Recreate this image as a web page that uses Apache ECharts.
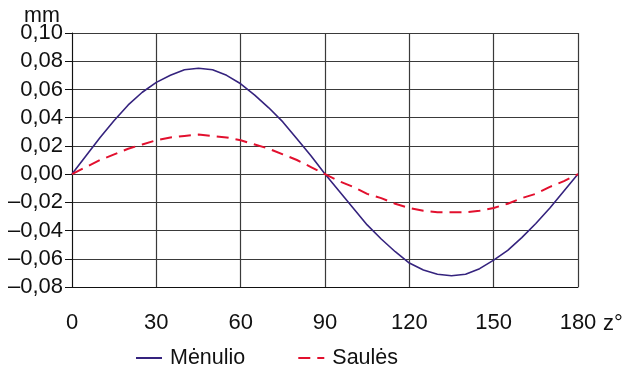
<!DOCTYPE html>
<html><head><meta charset="utf-8">
<script src="https://cdn.jsdelivr.net/npm/echarts@6/dist/echarts.min.js"></script>
<style>html,body{margin:0;padding:0;background:#fff}#c{width:632px;height:371px}</style>
</head><body><div id="c"></div>
<script>
const angles = [0,5,10,15,20,25,30,35,40,45,50,55,60,65,70,75,80,85,90,95,100,105,110,115,120,125,130,135,140,145,150,155,160,165,170,175,180];
const menulio = [0,0.013,0.026,0.038,0.049,0.058,0.065,0.070,0.074,0.075,0.074,0.070,0.064,0.056,0.047,0.037,0.025,0.013,0,-0.012,-0.024,-0.036,-0.046,-0.055,-0.063,-0.068,-0.071,-0.072,-0.071,-0.067,-0.061,-0.054,-0.045,-0.035,-0.024,-0.012,0];
const saules = [0,0.005,0.010,0.014,0.018,0.021,0.024,0.026,0.027,0.028,0.027,0.026,0.024,0.021,0.018,0.014,0.010,0.005,0,-0.005,-0.009,-0.014,-0.017,-0.021,-0.024,-0.026,-0.027,-0.027,-0.027,-0.026,-0.024,-0.021,-0.017,-0.014,-0.009,-0.005,0];
const seriesNames = ['Mėnulio','Saulės'];
const xTicks = [0,30,60,90,120,150,180];

const font = 'Liberation Sans, Arial, sans-serif';
const chart = echarts.init(document.getElementById('c'));
const fmtY = v => {
  const s = Math.abs(v).toFixed(2).replace('.', ',');
  return (v < -1e-9 ? '\u2013' : '') + s;
};
chart.setOption({
  animation: false,
  textStyle: {fontFamily: font},
  grid: {left: 72, right: 54, top: 33, bottom: 84, containLabel: false},
  legend: {
    bottom: -3, left: 130, itemWidth: 26, itemHeight: 10, itemGap: 52,
    itemStyle: {opacity: 0},
    textStyle: {fontFamily: font, fontSize: 21.5, color: '#111', padding: [0, 0, 0, 3]},
    data: seriesNames
  },
  xAxis: {
    type: 'value', min: 0, max: 180, interval: 30,
    axisLine: {show: true, onZero: false, lineStyle: {color: '#111', width: 1}},
    axisTick: {show: false},
    splitLine: {show: true, lineStyle: {color: '#3a3a3a', width: 1.2}},
    axisLabel: {margin: 25, fontSize: 22, color: '#111', fontFamily: font,
      formatter: v => xTicks.includes(v) ? String(v) : ''},
  },
  yAxis: {
    type: 'value', min: -0.08, max: 0.10, interval: 0.02,
    axisLine: {show: true, lineStyle: {color: '#111', width: 1}},
    axisTick: {show: true, inside: false, length: 7, lineStyle: {color: '#111'}},
    splitLine: {show: true, lineStyle: {color: '#3a3a3a', width: 1.2}},
    axisLabel: {margin: 9, fontSize: 22, color: '#111', fontFamily: font, formatter: fmtY}
  },
  graphic: [
    {type: 'text', left: 24, top: 5,
      style: {text: 'mm', fontSize: 21.5, fill: '#111', fontFamily: font}},
    {type: 'text', left: 603, top: 313,
      style: {text: 'z°', fontSize: 22, fill: '#111', fontFamily: font}}
  ],
  series: [
    {name: seriesNames[0], type: 'line', symbol: 'none', smooth: false,
      data: angles.map((a, i) => [a, menulio[i]]),
      lineStyle: {color: '#35237e', width: 1.6}, itemStyle: {color: '#35237e'}},
    {name: seriesNames[1], type: 'line', symbol: 'none', smooth: false,
      data: angles.map((a, i) => [a, saules[i]]),
      lineStyle: {color: '#e2102e', width: 2, type: [12, 7]}, itemStyle: {color: '#e2102e'}}
  ]
});
</script></body></html>
